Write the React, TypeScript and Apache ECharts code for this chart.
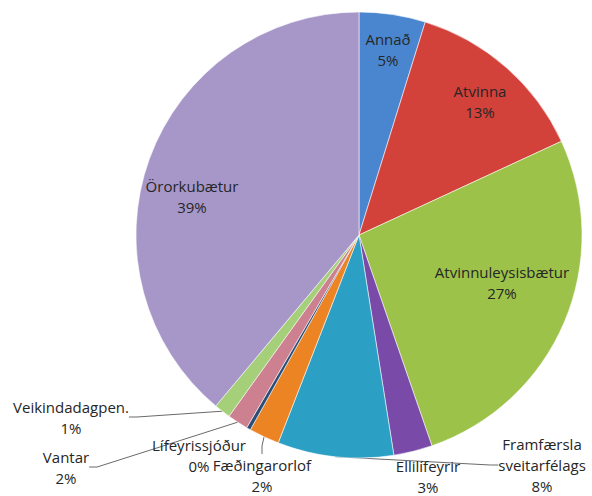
import React, { useEffect, useRef } from "react";
import * as echarts from "echarts";

const categories = [
  "Annað",
  "Atvinna",
  "Atvinnuleysisbætur",
  "Ellilífeyrir",
  "Framfærsla sveitarfélags",
  "Fæðingarorlof",
  "Lífeyrissjóður",
  "Vantar",
  "Veikindadagpen.",
  "Örorkubætur",
];
const values = [4.8, 13.3, 26.6, 2.8, 8.4, 2.2, 0.3, 1.5, 1.2, 38.9];
const colors = [
  "#4a86d0",
  "#d2413a",
  "#9cc24a",
  "#7a4aa8",
  "#2b9fc4",
  "#ec8424",
  "#2c4d75",
  "#cc8090",
  "#a6cf7a",
  "#a797c9",
];
// label anchor (centre of text block) for each slice, Excel-style placement
const labelPos: [number, number][] = [
  [388, 49],
  [480, 101],
  [502, 282],
  [428, 476],
  [542, 465],
  [262, 475],
  [199, 455],
  [66, 467],
  [71, 417],
  [192, 196],
];
const showLeader = [false, false, false, false, true, true, false, true, true, false];

export default function App() {
  const ref = useRef<HTMLDivElement>(null);
  useEffect(() => {
    if (!ref.current) return;
    const chart = echarts.init(ref.current, undefined, { renderer: "svg" });
    chart.setOption({
      animation: false,
      backgroundColor: "#ffffff",
      series: [
        {
          type: "pie",
          center: [359, 235],
          radius: 223,
          startAngle: 90,
          clockwise: true,
          percentPrecision: 0,
          avoidLabelOverlap: false,
          itemStyle: { borderColor: "rgba(255,255,255,0.55)", borderWidth: 1 },
          label: {
            show: true,
            position: "outside",
            fontFamily: "Open Sans",
            fontSize: 15,
            lineHeight: 21,
            color: "#262626",
            align: "center",
            formatter: (p: any) =>
              (p.name === "Framfærsla sveitarfélags" ? "Framfærsla\nsveitarfélags" : p.name) +
              "\n" +
              p.percent +
              "%",
          },
          labelLine: {
            show: true,
            length: 8,
            length2: 8,
            lineStyle: { color: "#6a6a6a", width: 1 },
          },
          labelLayout: (params: any) => {
            const [x, y] = labelPos[params.dataIndex];
            return { x, y, align: "center", verticalAlign: "middle" };
          },
          data: categories.map((name, i) => ({
            name,
            value: values[i],
            itemStyle: { color: colors[i] },
            labelLine: { show: showLeader[i] },
          })),
        },
      ],
    });
    return () => chart.dispose();
  }, []);
  return (
    <div
      ref={ref}
      style={{ position: "fixed", left: 0, top: 0, width: 592, height: 496 }}
    />
  );
}
